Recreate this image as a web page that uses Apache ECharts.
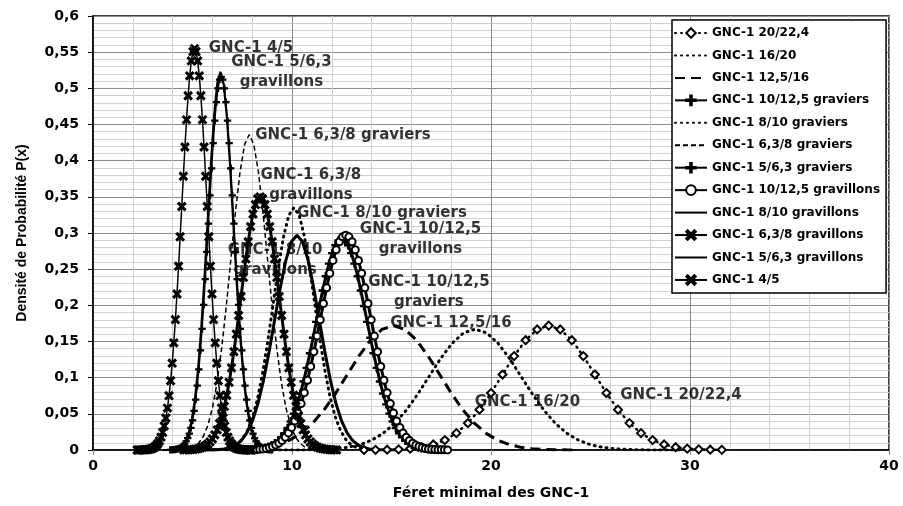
<!DOCTYPE html>
<html>
<head>
<meta charset="utf-8">
<script src="https://cdn.jsdelivr.net/npm/echarts@6.0.0/dist/echarts.min.js"></script>
<style>
html, body { margin: 0; padding: 0; background: #fff; }
#chart { width: 903px; height: 506px; }
</style>
</head>
<body>
<div id="chart"></div>
<script>
// --- data ---
var seriesNames = ['GNC-1 20/22,4', 'GNC-1 16/20', 'GNC-1 12,5/16', 'GNC-1 10/12,5 graviers',
    'GNC-1 8/10 graviers', 'GNC-1 6,3/8 graviers', 'GNC-1 5/6,3 graviers', 'GNC-1 10/12,5 gravillons',
    'GNC-1 8/10 gravillons', 'GNC-1 6,3/8 gravillons', 'GNC-1 5/6,3 gravillons', 'GNC-1 4/5'];

var x_20_224 = [13.62,14.20,14.78,15.36,15.94,16.52,17.10,17.68,18.26,18.84,19.42,20.00,20.58,21.16,21.74,22.32,22.90,
    23.48,24.06,24.64,25.22,25.80,26.38,26.96,27.54,28.12,28.70,29.28,29.86,30.44,31.02,31.60];
var y_20_224 = [0.0001,0.0002,0.0004,0.0009,0.0019,0.0039,0.0076,0.0137,0.0233,0.0372,0.0558,0.0787,0.1043,0.1298,0.1518,0.1667,0.1720,
    0.1667,0.1518,0.1298,0.1043,0.0787,0.0558,0.0372,0.0233,0.0137,0.0076,0.0039,0.0019,0.0009,0.0004,0.0002];

var x_16_20 = [8.76,9.34,9.92,10.50,11.08,11.66,12.24,12.82,13.40,13.98,14.56,15.14,15.72,16.30,16.88,17.46,18.04,18.62,19.20,
    19.78,20.36,20.94,21.52,22.10,22.68,23.26,23.84,24.42,25.00,25.58,26.16,26.74,27.32,27.90,28.48,29.06,29.64];
var y_16_20 = [0,0,0.0001,0.0001,0.0004,0.0009,0.0019,0.0038,0.0073,0.0133,0.0226,0.0361,0.0542,0.0765,0.1013,0.1261,0.1474,0.1619,0.1670,
    0.1619,0.1474,0.1261,0.1013,0.0765,0.0542,0.0361,0.0226,0.0133,0.0073,0.0038,0.0019,0.0009,0.0004,0.0001,0.0001,0,0];

var x_125_16 = [5.82,6.40,6.98,7.56,8.14,8.72,9.30,9.88,10.46,11.04,11.62,12.20,12.78,13.36,13.94,14.52,15.10,
    15.68,16.26,16.84,17.42,18.00,18.58,19.16,19.74,20.32,20.90,21.48,22.06,22.64,23.22,23.80,24.38];
var y_125_16 = [0.0001,0.0002,0.0004,0.0009,0.0019,0.0039,0.0076,0.0137,0.0233,0.0372,0.0558,0.0787,0.1043,0.1298,0.1518,0.1667,0.1720,
    0.1667,0.1518,0.1298,0.1043,0.0787,0.0558,0.0372,0.0233,0.0137,0.0076,0.0039,0.0019,0.0009,0.0004,0.0002,0.0001];

var x_10_125_gr = [7.38,7.54,7.70,7.86,8.02,8.18,8.34,8.50,8.66,8.82,8.98,9.14,9.30,9.46,9.62,9.78,9.94,10.10,10.26,10.42,10.58,10.74,10.90,11.06,11.22,11.38,11.54,11.70,11.86,12.02,12.18,12.34,12.50,
    12.66,12.82,12.98,13.14,13.30,13.46,13.62,13.78,13.94,14.10,14.26,14.42,14.58,14.74,14.90,15.06,15.22,15.38,15.54,15.70,15.86,16.02,16.18,16.34,16.50,16.66,16.82,16.98,17.14,17.30,17.46,17.62];
var y_10_125_gr = [0.0001,0.0002,0.0003,0.0004,0.0006,0.0010,0.0015,0.0022,0.0032,0.0047,0.0067,0.0093,0.0128,0.0174,0.0232,0.0305,0.0395,0.0503,0.0631,0.0780,0.0948,0.1135,0.1337,0.1551,0.1771,0.1991,0.2204,0.2402,0.2577,0.2722,0.2830,0.2897,0.2920,
    0.2897,0.2830,0.2722,0.2577,0.2402,0.2204,0.1991,0.1771,0.1551,0.1337,0.1135,0.0948,0.0780,0.0631,0.0503,0.0395,0.0305,0.0232,0.0174,0.0128,0.0093,0.0067,0.0047,0.0032,0.0022,0.0015,0.0010,0.0006,0.0004,0.0003,0.0002,0.0001];

var x_8_10_gr = [5.42,5.68,5.94,6.20,6.46,6.72,6.98,7.24,7.50,7.76,8.02,8.28,8.54,8.80,9.06,9.32,9.58,9.84,10.10,
    10.36,10.62,10.88,11.14,11.40,11.66,11.92,12.18,12.44,12.70,12.96,13.22,13.48,13.74,14.00,14.26,14.52,14.78];
var y_8_10_gr = [0,0,0.0001,0.0003,0.0007,0.0017,0.0037,0.0076,0.0147,0.0267,0.0453,0.0724,0.1088,0.1534,0.2032,0.2529,0.2956,0.3247,0.3350,
    0.3247,0.2956,0.2529,0.2032,0.1534,0.1088,0.0724,0.0453,0.0267,0.0147,0.0076,0.0037,0.0017,0.0007,0.0003,0.0001,0,0];

var x_63_8_gr = [3.71,3.94,4.17,4.40,4.63,4.86,5.09,5.32,5.55,5.78,6.01,6.24,6.47,6.70,6.93,7.16,7.39,7.62,7.85,
    8.08,8.31,8.54,8.77,9.00,9.23,9.46,9.69,9.92,10.15,10.38,10.61,10.84,11.07,11.30,11.53,11.76,11.99];
var y_63_8_gr = [0,0.0001,0.0001,0.0004,0.0010,0.0022,0.0048,0.0099,0.0192,0.0347,0.0590,0.0943,0.1415,0.1996,0.2644,0.3291,0.3848,0.4226,0.4360,
    0.4226,0.3848,0.3291,0.2644,0.1996,0.1415,0.0943,0.0590,0.0347,0.0192,0.0099,0.0048,0.0022,0.0010,0.0004,0.0001,0.0001,0];

var x_5_63_gr = [3.88,3.96,4.04,4.12,4.20,4.28,4.36,4.44,4.52,4.60,4.68,4.76,4.84,4.92,5.00,5.08,5.16,5.24,5.32,5.40,5.48,5.56,5.64,5.72,5.80,5.88,5.96,6.04,6.12,6.20,6.28,6.36,6.44,
    6.52,6.60,6.68,6.76,6.84,6.92,7.00,7.08,7.16,7.24,7.32,7.40,7.48,7.56,7.64,7.72,7.80,7.88,7.96,8.04,8.12,8.20,8.28,8.36,8.44,8.52,8.60,8.68,8.76,8.84,8.92,9.00];
var y_5_63_gr = [0.0002,0.0003,0.0005,0.0007,0.0011,0.0017,0.0026,0.0039,0.0057,0.0083,0.0118,0.0165,0.0227,0.0307,0.0411,0.0540,0.0698,0.0890,0.1116,0.1378,0.1675,0.2005,0.2362,0.2740,0.3130,0.3519,0.3895,0.4244,0.4554,0.4810,0.5001,0.5120,0.5160,
    0.5120,0.5001,0.4810,0.4554,0.4244,0.3895,0.3519,0.3130,0.2740,0.2362,0.2005,0.1675,0.1378,0.1116,0.0890,0.0698,0.0540,0.0411,0.0307,0.0227,0.0165,0.0118,0.0083,0.0057,0.0039,0.0026,0.0017,0.0011,0.0007,0.0005,0.0003,0.0002];

var x_10_125_gv = [7.58,7.74,7.90,8.06,8.22,8.38,8.54,8.70,8.86,9.02,9.18,9.34,9.50,9.66,9.82,9.98,10.14,10.30,10.46,10.62,10.78,10.94,11.10,11.26,11.42,11.58,11.74,11.90,12.06,12.22,12.38,12.54,12.70,
    12.86,13.02,13.18,13.34,13.50,13.66,13.82,13.98,14.14,14.30,14.46,14.62,14.78,14.94,15.10,15.26,15.42,15.58,15.74,15.90,16.06,16.22,16.38,16.54,16.70,16.86,17.02,17.18,17.34,17.50,17.66,17.82];
var y_10_125_gv = [0.0001,0.0002,0.0003,0.0004,0.0006,0.0010,0.0015,0.0022,0.0033,0.0048,0.0068,0.0095,0.0131,0.0177,0.0236,0.0311,0.0402,0.0512,0.0642,0.0793,0.0964,0.1154,0.1360,0.1577,0.1801,0.2025,0.2242,0.2443,0.2621,0.2768,0.2879,0.2947,0.2970,
    0.2947,0.2879,0.2768,0.2621,0.2443,0.2242,0.2025,0.1801,0.1577,0.1360,0.1154,0.0964,0.0793,0.0642,0.0512,0.0402,0.0311,0.0236,0.0177,0.0131,0.0095,0.0068,0.0048,0.0033,0.0022,0.0015,0.0010,0.0006,0.0004,0.0003,0.0002,0.0001];

var x_8_10_gv = [5.21,5.49,5.77,6.05,6.33,6.61,6.89,7.17,7.45,7.73,8.01,8.29,8.57,8.85,9.13,9.41,9.69,9.97,10.25,
    10.53,10.81,11.09,11.37,11.65,11.93,12.21,12.49,12.77,13.05,13.33,13.61,13.89,14.17,14.45,14.73,15.01,15.29];
var y_8_10_gv = [0,0,0.0001,0.0003,0.0006,0.0015,0.0033,0.0068,0.0131,0.0236,0.0402,0.0642,0.0964,0.1360,0.1801,0.2242,0.2621,0.2879,0.2970,
    0.2879,0.2621,0.2242,0.1801,0.1360,0.0964,0.0642,0.0402,0.0236,0.0131,0.0068,0.0033,0.0015,0.0006,0.0003,0.0001,0,0];

var x_63_8_gv = [4.56,4.68,4.80,4.92,5.04,5.16,5.28,5.40,5.52,5.64,5.76,5.88,6.00,6.12,6.24,6.36,6.48,6.60,6.72,6.84,6.96,7.08,7.20,7.32,7.44,7.56,7.68,7.80,7.92,8.04,8.16,8.28,8.40,
    8.52,8.64,8.76,8.88,9.00,9.12,9.24,9.36,9.48,9.60,9.72,9.84,9.96,10.08,10.20,10.32,10.44,10.56,10.68,10.80,10.92,11.04,11.16,11.28,11.40,11.52,11.64,11.76,11.88,12.00,12.12,12.24];
var y_63_8_gv = [0.0001,0.0002,0.0003,0.0005,0.0008,0.0012,0.0018,0.0027,0.0039,0.0056,0.0080,0.0112,0.0154,0.0209,0.0278,0.0366,0.0474,0.0603,0.0757,0.0935,0.1136,0.1360,0.1602,0.1859,0.2123,0.2387,0.2642,0.2879,0.3089,0.3262,0.3392,0.3473,0.3500,
    0.3473,0.3392,0.3262,0.3089,0.2879,0.2642,0.2387,0.2123,0.1859,0.1602,0.1360,0.1136,0.0935,0.0757,0.0603,0.0474,0.0366,0.0278,0.0209,0.0154,0.0112,0.0080,0.0056,0.0039,0.0027,0.0018,0.0012,0.0008,0.0005,0.0003,0.0002,0.0001];

var x_5_63_gv = [3.52,3.68,3.84,4.00,4.16,4.32,4.48,4.64,4.80,4.96,5.12,5.28,5.44,5.60,5.76,5.92,6.08,6.24,6.40,
    6.56,6.72,6.88,7.04,7.20,7.36,7.52,7.68,7.84,8.00,8.16,8.32,8.48,8.64,8.80,8.96,9.12,9.28];
var y_5_63_gv = [0,0.0001,0.0002,0.0005,0.0011,0.0027,0.0058,0.0119,0.0230,0.0416,0.0708,0.1131,0.1698,0.2394,0.3172,0.3948,0.4615,0.5069,0.5230,
    0.5069,0.4615,0.3948,0.3172,0.2394,0.1698,0.1131,0.0708,0.0416,0.0230,0.0119,0.0058,0.0027,0.0011,0.0005,0.0002,0.0001,0];

var x_4_5 = [2.22,2.30,2.38,2.46,2.54,2.62,2.70,2.78,2.86,2.94,3.02,3.10,3.18,3.26,3.34,3.42,3.50,3.58,3.66,3.74,3.82,3.90,3.98,4.06,4.14,4.22,4.30,4.38,4.46,4.54,4.62,4.70,4.78,4.86,4.94,5.02,5.10,
    5.18,5.26,5.34,5.42,5.50,5.58,5.66,5.74,5.82,5.90,5.98,6.06,6.14,6.22,6.30,6.38,6.46,6.54,6.62,6.70,6.78,6.86,6.94,7.02,7.10,7.18,7.26,7.34,7.42,7.50,7.58,7.66,7.74,7.82,7.90,7.98];
var y_4_5 = [0,0,0.0001,0.0001,0.0002,0.0003,0.0005,0.0008,0.0012,0.0019,0.0028,0.0042,0.0062,0.0089,0.0126,0.0177,0.0244,0.0331,0.0442,0.0580,0.0751,0.0957,0.1200,0.1482,0.1802,0.2157,0.2541,0.2948,0.3366,0.3785,0.4189,0.4565,0.4898,0.5173,0.5379,0.5507,0.5550,
    0.5507,0.5379,0.5173,0.4898,0.4565,0.4189,0.3785,0.3366,0.2948,0.2541,0.2157,0.1802,0.1482,0.1200,0.0957,0.0751,0.0580,0.0442,0.0331,0.0244,0.0177,0.0126,0.0089,0.0062,0.0042,0.0028,0.0019,0.0012,0.0008,0.0005,0.0003,0.0002,0.0001,0.0001,0,0];

// curve labels written on the plot
var labelTexts = ['GNC-1 4/5', 'GNC-1 5/6,3\ngravillons', 'GNC-1 6,3/8 graviers', 'GNC-1 6,3/8\ngravillons',
    'GNC-1 8/10 graviers', 'GNC-1 10/12,5\ngravillons', 'GNC-1 8/10\ngravillons', 'GNC-1 10/12,5\ngraviers',
    'GNC-1 12,5/16', 'GNC-1 16/20', 'GNC-1 20/22,4'];
var labelX = [7.94, 9.47, 12.56, 10.95, 14.52, 16.46, 9.15, 16.88, 17.99, 21.83, 29.55];
var labelY = [0.556, 0.522, 0.4355, 0.3664, 0.3277, 0.291, 0.262, 0.2184, 0.1756, 0.0664, 0.076];

function pairs(xs, ys) {
    var out = [];
    for (var i = 0; i < xs.length; i++) out.push([xs[i], ys[i]]);
    return out;
}

var crossPath = 'path://M0,1.5L1.5,0L5,3.5L8.5,0L10,1.5L6.5,5L10,8.5L8.5,10L5,6.5L1.5,10L0,8.5L3.5,5Z';
var plusPath = 'path://M4.2,0H5.8V4.2H10V5.8H5.8V10H4.2V5.8H0V4.2H4.2Z';
var boldFont = 'DejaVu Sans';

function curve(name, xs, ys, line, symbol, size) {
    return {
        name: name,
        type: 'line',
        data: pairs(xs, ys),
        z: 3,
        symbol: symbol || 'none',
        symbolSize: size || 0,
        showAllSymbol: true,
        lineStyle: Object.assign({ color: '#000', cap: 'butt' }, line),
        itemStyle: { color: '#000', borderColor: '#000', borderWidth: 1.3 },
        emphasis: { disabled: true }
    };
}

// series drawn as plain lines get no marker in the legend
var noMarker = ['GNC-1 16/20', 'GNC-1 12,5/16', 'GNC-1 8/10 graviers', 'GNC-1 6,3/8 graviers',
    'GNC-1 8/10 gravillons', 'GNC-1 5/6,3 gravillons'];
var legendData = seriesNames.map(function (n) {
    if (noMarker.indexOf(n) >= 0) {
        return { name: n, itemStyle: { opacity: 0 } };
    }
    return { name: n };
});

var labelData = labelTexts.map(function (t, i) {
    return { name: t, value: [labelX[i], labelY[i]] };
});

var chart = echarts.init(document.getElementById('chart'));
var option = {
    animation: false,
    backgroundColor: '#fff',
    grid: { left: 93, right: 14, top: 16, bottom: 56, show: true, borderColor: '#000', borderWidth: 1.5 },
    legend: {
        data: legendData,
        orient: 'vertical',
        left: 672,
        top: 20,
        itemWidth: 32,
        itemHeight: 12,
        itemGap: 10.45,
        padding: [7, 6, 7, 2],
        backgroundColor: '#fff',
        borderColor: '#000',
        borderWidth: 1.5,
        textStyle: { fontFamily: boldFont, fontWeight: 'bold', fontSize: 12, color: '#000' }
    },
    xAxis: {
        type: 'value', min: 0, max: 40, interval: 10,
        name: 'Féret minimal des GNC-1', nameLocation: 'middle', nameGap: 36,
        nameTextStyle: { fontFamily: boldFont, fontWeight: 'bold', fontSize: 14, color: '#000' },
        axisLine: { show: true, onZero: false, lineStyle: { color: '#000', width: 1.5 } },
        axisTick: { show: true, length: 5, lineStyle: { color: '#888' } },
        axisLabel: { margin: 9, fontFamily: boldFont, fontWeight: 'bold', fontSize: 14, color: '#000' },
        splitLine: { show: true, lineStyle: { color: '#8a8a8a', width: 1 } },
        minorTick: { show: false, splitNumber: 5 },
        minorSplitLine: { show: true, lineStyle: { color: '#d0d0d0', width: 1 } }
    },
    yAxis: {
        type: 'value', min: 0, max: 0.6, interval: 0.05,
        name: 'Densité de Probabilité P(x)', nameLocation: 'middle', nameGap: 64,
        nameTextStyle: { fontFamily: 'Liberation Sans', fontWeight: 'bold', fontSize: 14, color: '#000' },
        axisLine: { show: true, onZero: false, lineStyle: { color: '#000', width: 1.5 } },
        axisTick: { show: true, length: 5, lineStyle: { color: '#000' } },
        axisLabel: {
            margin: 14, fontFamily: boldFont, fontWeight: 'bold', fontSize: 14, color: '#000',
            formatter: function (v) { return String(Math.round(v * 100) / 100).replace('.', ','); }
        },
        splitLine: { show: true, lineStyle: { color: '#8a8a8a', width: 1 } },
        minorTick: { show: false, splitNumber: 5 },
        minorSplitLine: { show: true, lineStyle: { color: '#d0d0d0', width: 1 } }
    },
    series: [
        {
            name: 'labels', type: 'scatter', data: labelData, symbolSize: 0, silent: true, z: 1,
            label: {
                show: true, position: 'inside', formatter: '{b}', color: '#000', textBorderWidth: 0,
                fontFamily: boldFont, fontWeight: 'bold', fontSize: 15, lineHeight: 20, align: 'center', verticalAlign: 'middle'
            }
        },
        curve(seriesNames[0], x_20_224, y_20_224, { width: 2.5, type: [1, 5], cap: 'round' }, 'emptyDiamond', 8),
        curve(seriesNames[1], x_16_20, y_16_20, { width: 3, type: [1, 5], cap: 'round' }),
        curve(seriesNames[2], x_125_16, y_125_16, { width: 3, type: [10, 6] }),
        curve(seriesNames[3], x_10_125_gr, y_10_125_gr, { width: 3 }, plusPath, 7),
        curve(seriesNames[4], x_8_10_gr, y_8_10_gr, { width: 3, type: [1, 5], cap: 'round' }),
        curve(seriesNames[5], x_63_8_gr, y_63_8_gr, { width: 1.5, type: [5, 3] }),
        curve(seriesNames[6], x_5_63_gr, y_5_63_gr, { width: 1.5 }, plusPath, 6),
        curve(seriesNames[7], x_10_125_gv, y_10_125_gv, { width: 3 }, 'emptyCircle', 7),
        curve(seriesNames[8], x_8_10_gv, y_8_10_gv, { width: 3 }),
        curve(seriesNames[9], x_63_8_gv, y_63_8_gv, { width: 3 }, crossPath, 8),
        curve(seriesNames[10], x_5_63_gv, y_5_63_gv, { width: 2 }),
        curve(seriesNames[11], x_4_5, y_4_5, { width: 1.5 }, crossPath, 8)
    ]
};

if (option && typeof option === 'object') {
    chart.setOption(option);
}

window.addEventListener('resize', function () {
    chart.resize();
});
</script>
</body>
</html>
